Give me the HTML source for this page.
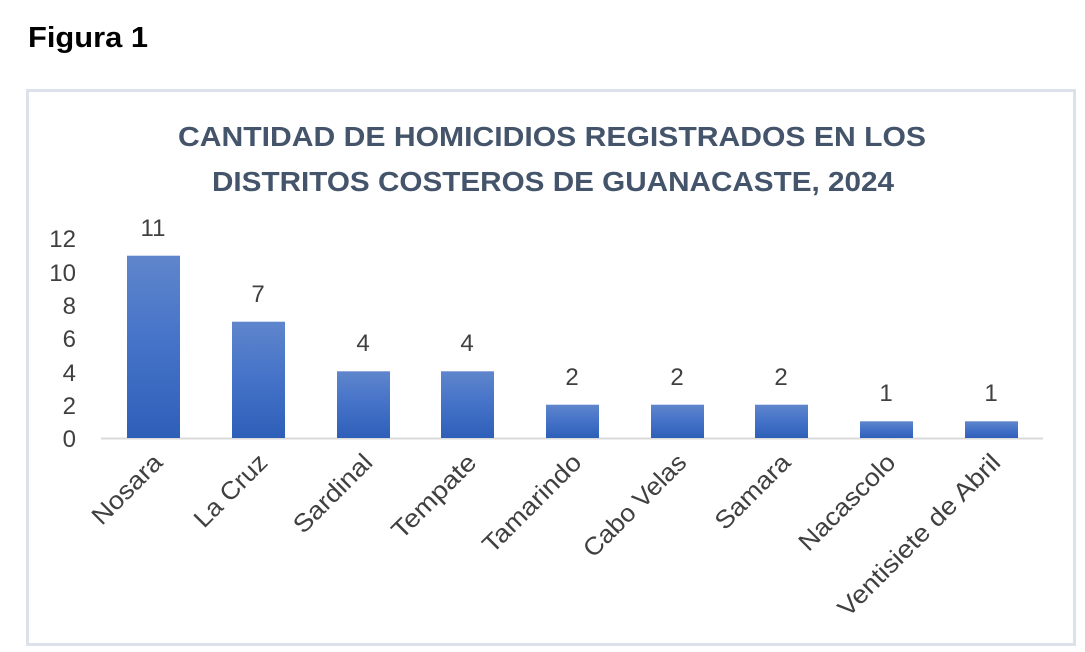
<!DOCTYPE html>
<html><head><style>
html,body{margin:0;padding:0;background:#fff;}
svg{display:block;font-family:"Liberation Sans",sans-serif;}
</style></head><body>
<svg width="1085" height="652" viewBox="0 0 1085 652" xmlns="http://www.w3.org/2000/svg">
<defs>
<linearGradient id="g" x1="0" y1="0" x2="0" y2="1">
<stop offset="0" stop-color="#5f86cc"/><stop offset="0.5" stop-color="#4472c8"/><stop offset="1" stop-color="#2e5fb8"/>
</linearGradient>
</defs>
<text x="28" y="47" font-size="29" font-weight="bold" fill="#000" textLength="120" lengthAdjust="spacingAndGlyphs">Figura 1</text>
<rect x="27.5" y="90.5" width="1047" height="554" fill="none" stroke="#dde2ea" stroke-width="3"/>
<g font-size="28" font-weight="bold" fill="#44546a" text-anchor="middle">
<text x="552" y="146" textLength="748" lengthAdjust="spacingAndGlyphs">CANTIDAD DE HOMICIDIOS REGISTRADOS EN LOS</text>
<text x="553" y="191" textLength="682" lengthAdjust="spacingAndGlyphs">DISTRITOS COSTEROS DE GUANACASTE, 2024</text>
</g>
<g font-size="24" fill="#404040" text-anchor="end">
<text x="76" y="247">12</text><text x="76" y="281">10</text><text x="76" y="314">8</text>
<text x="76" y="347">6</text><text x="76" y="381">4</text><text x="76" y="414">2</text><text x="76" y="447">0</text>
</g>
<line x1="101" y1="438.5" x2="1043" y2="438.5" stroke="#d9d9d9" stroke-width="2"/>
<g fill="url(#g)">
<rect x="127" y="255.7" width="53" height="182.3"/>
<rect x="232" y="321.7" width="53" height="116.3"/>
<rect x="337" y="371.3" width="53" height="66.7"/>
<rect x="441" y="371.3" width="53" height="66.7"/>
<rect x="546" y="404.7" width="53" height="33.3"/>
<rect x="651" y="404.7" width="53" height="33.3"/>
<rect x="755" y="404.7" width="53" height="33.3"/>
<rect x="860" y="421.3" width="53" height="16.7"/>
<rect x="965" y="421.3" width="53" height="16.7"/>
</g>
<g font-size="24" fill="#404040" text-anchor="middle">
<text x="153" y="236">11</text><text x="258" y="302">7</text><text x="363" y="351">4</text>
<text x="467" y="351">4</text><text x="572" y="385">2</text><text x="677" y="385">2</text>
<text x="781" y="385">2</text><text x="886" y="401">1</text><text x="991" y="401">1</text>
</g>
<g font-size="25" fill="#404040" text-anchor="end">
<text transform="translate(164,464) rotate(-45)" textLength="88" lengthAdjust="spacingAndGlyphs">Nosara</text>
<text transform="translate(269,464) rotate(-45)" textLength="92" lengthAdjust="spacingAndGlyphs">La Cruz</text>
<text transform="translate(374,464) rotate(-45)" textLength="100" lengthAdjust="spacingAndGlyphs">Sardinal</text>
<text transform="translate(478,464) rotate(-45)" textLength="108" lengthAdjust="spacingAndGlyphs">Tempate</text>
<text transform="translate(583,464) rotate(-45)" textLength="128" lengthAdjust="spacingAndGlyphs">Tamarindo</text>
<text transform="translate(688,464) rotate(-45)" textLength="134" lengthAdjust="spacingAndGlyphs">Cabo Velas</text>
<text transform="translate(792,464) rotate(-45)" textLength="95" lengthAdjust="spacingAndGlyphs">Samara</text>
<text transform="translate(897,464) rotate(-45)" textLength="125" lengthAdjust="spacingAndGlyphs">Nacascolo</text>
<text transform="translate(1002,464) rotate(-45)" textLength="218" lengthAdjust="spacingAndGlyphs">Ventisiete de Abril</text>
</g>
</svg>
</body></html>
